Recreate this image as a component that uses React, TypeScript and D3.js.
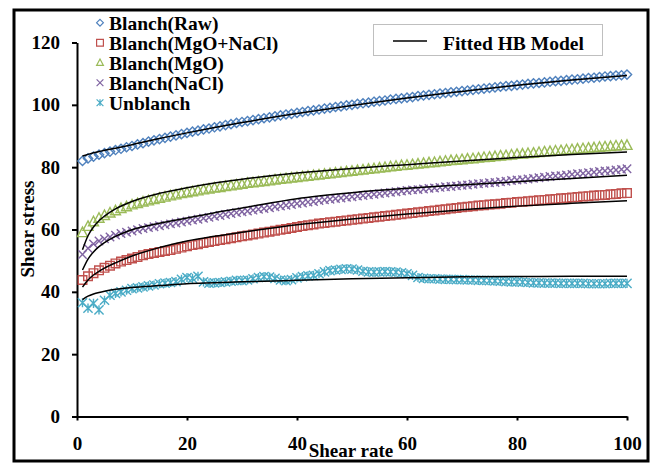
import React, { useEffect, useRef } from "react";
import * as d3 from "d3";

// shear rate (1/s) for every measured point
const shearRate = [
  1, 2, 3, 4, 5, 6, 7, 8, 9, 10, 11, 12, 13, 14, 15, 16, 17, 18, 19, 20,
  21, 22, 23, 24, 25, 26, 27, 28, 29, 30, 31, 32, 33, 34, 35, 36, 37, 38, 39, 40,
  41, 42, 43, 44, 45, 46, 47, 48, 49, 50, 51, 52, 53, 54, 55, 56, 57, 58, 59, 60,
  61, 62, 63, 64, 65, 66, 67, 68, 69, 70, 71, 72, 73, 74, 75, 76, 77, 78, 79, 80,
  81, 82, 83, 84, 85, 86, 87, 88, 89, 90, 91, 92, 93, 94, 95, 96, 97, 98, 99, 100,
];

const rawStress = [
  82.0, 82.8, 83.4, 84.0, 84.5, 85.0, 85.5, 85.9, 86.4, 86.8,
  87.3, 87.7, 88.2, 88.6, 89.0, 89.4, 89.8, 90.2, 90.6, 91.0,
  91.4, 91.7, 92.1, 92.4, 92.8, 93.1, 93.5, 93.8, 94.2, 94.5,
  94.8, 95.1, 95.4, 95.7, 96.0, 96.3, 96.6, 96.9, 97.1, 97.4,
  97.7, 98.0, 98.2, 98.5, 98.8, 99.0, 99.3, 99.5, 99.8, 100.0,
  100.3, 100.5, 100.7, 101.0, 101.2, 101.4, 101.7, 101.9, 102.1, 102.3,
  102.5, 102.8, 103.0, 103.2, 103.4, 103.6, 103.8, 104.0, 104.2, 104.4,
  104.6, 104.8, 105.0, 105.2, 105.4, 105.6, 105.8, 106.0, 106.1, 106.3,
  106.5, 106.7, 106.9, 107.0, 107.2, 107.4, 107.6, 107.7, 107.9, 108.1,
  108.2, 108.4, 108.6, 108.7, 108.9, 109.1, 109.2, 109.4, 109.5, 109.7,
];

const mgoNaclStress = [
  43.8, 45.0, 46.0, 46.9, 47.7, 48.4, 49.1, 49.7, 50.2, 50.7,
  51.2, 51.7, 52.1, 52.5, 52.8, 53.1, 53.4, 53.8, 54.2, 54.6,
  55.0, 55.3, 55.7, 56.0, 56.3, 56.6, 56.9, 57.2, 57.5, 57.8,
  58.1, 58.4, 58.7, 59.0, 59.3, 59.6, 59.9, 60.2, 60.5, 60.8,
  61.1, 61.4, 61.6, 61.9, 62.1, 62.3, 62.5, 62.7, 62.9, 63.1,
  63.3, 63.5, 63.7, 63.9, 64.1, 64.3, 64.5, 64.7, 64.9, 65.1,
  65.3, 65.5, 65.7, 65.9, 66.1, 66.3, 66.5, 66.7, 66.9, 67.1,
  67.3, 67.5, 67.7, 67.8, 68.0, 68.1, 68.3, 68.5, 68.6, 68.8,
  68.9, 69.1, 69.2, 69.4, 69.5, 69.7, 69.8, 70.0, 70.1, 70.3,
  70.4, 70.6, 70.7, 70.9, 71.0, 71.1, 71.3, 71.4, 71.6, 71.7,
];

const mgoStress = [
  59.0, 61.0, 62.5, 63.6, 64.5, 65.3, 66.0, 66.7, 67.3, 67.9,
  68.3, 68.8, 69.2, 69.6, 70.0, 70.4, 70.8, 71.1, 71.5, 71.8,
  72.1, 72.4, 72.7, 73.0, 73.3, 73.5, 73.8, 74.0, 74.3, 74.5,
  74.8, 75.0, 75.2, 75.4, 75.6, 75.9, 76.1, 76.3, 76.5, 76.7,
  76.9, 77.1, 77.3, 77.5, 77.7, 77.9, 78.1, 78.3, 78.5, 78.7,
  78.9, 79.1, 79.3, 79.5, 79.7, 79.9, 80.1, 80.3, 80.5, 80.6,
  80.8, 81.0, 81.2, 81.4, 81.5, 81.7, 81.9, 82.1, 82.2, 82.4,
  82.6, 82.7, 82.9, 83.1, 83.2, 83.4, 83.6, 83.7, 83.9, 84.1,
  84.2, 84.4, 84.5, 84.7, 84.9, 85.0, 85.2, 85.3, 85.5, 85.6,
  85.8, 85.9, 86.1, 86.2, 86.4, 86.5, 86.6, 86.8, 86.9, 87.0,
];

const naclStress = [
  52.0, 54.0, 55.4, 56.3, 57.0, 57.6, 58.2, 58.7, 59.1, 59.5,
  59.9, 60.3, 60.6, 60.9, 61.2, 61.5, 61.8, 62.1, 62.4, 62.7,
  63.0, 63.3, 63.6, 63.9, 64.2, 64.5, 64.8, 65.1, 65.4, 65.7,
  65.9, 66.2, 66.5, 66.7, 67.0, 67.3, 67.5, 67.8, 68.0, 68.3,
  68.5, 68.8, 69.0, 69.3, 69.5, 69.7, 69.9, 70.1, 70.3, 70.5,
  70.7, 70.9, 71.1, 71.3, 71.5, 71.7, 71.9, 72.1, 72.3, 72.5,
  72.7, 72.8, 73.0, 73.2, 73.3, 73.5, 73.7, 73.8, 74.0, 74.2,
  74.3, 74.5, 74.7, 74.8, 75.0, 75.1, 75.3, 75.5, 75.7, 75.9,
  76.0, 76.2, 76.4, 76.6, 76.8, 77.0, 77.2, 77.3, 77.5, 77.7,
  77.9, 78.0, 78.2, 78.4, 78.6, 78.8, 78.9, 79.1, 79.3, 79.5,
];

const unblanchStress = [
  36.5, 34.8, 36.3, 34.2, 37.3, 38.9, 39.5, 40.0, 40.5, 41.0,
  41.3, 41.6, 41.9, 42.2, 42.6, 42.8, 43.0, 43.3, 44.0, 44.6,
  44.3, 45.0, 43.2, 42.8, 42.9, 43.0, 43.2, 43.4, 43.7, 43.6,
  43.8, 44.2, 44.6, 44.9, 44.7, 44.3, 43.8, 43.6, 43.9, 44.5,
  44.9, 45.1, 45.3, 45.8, 46.4, 46.8, 47.0, 47.2, 47.4, 47.3,
  47.0, 46.6, 46.4, 46.3, 46.4, 46.5, 46.4, 46.3, 46.1, 45.8,
  45.3, 44.6, 44.3, 44.2, 44.2, 44.1, 44.0, 44.0, 43.9, 43.9,
  43.8, 43.8, 43.7, 43.7, 43.6, 43.5, 43.4, 43.3, 43.2, 43.2,
  43.1, 43.0, 42.9, 42.9, 42.8, 42.8, 42.8, 42.7, 42.7, 42.7,
  42.7, 42.7, 42.6, 42.6, 42.6, 42.6, 42.7, 42.7, 42.7, 42.7,
];

// Herschel-Bulkley fitted curves
const fitRate = [1, 2, 3, 4, 5, 7, 10, 15, 20, 25, 30, 40, 50, 60, 70, 80, 90, 100];
const rawFit = [83.6, 84.1, 84.6, 85.0, 85.4, 86.1, 87.2, 89.2, 91.0, 92.7, 94.3, 97.2, 99.8, 102.2, 104.3, 106.3, 108.0, 109.4];
const mgoNaclFit = [41.5, 43.8, 45.4, 46.6, 47.6, 49.3, 51.5, 54.2, 56.3, 57.8, 59.1, 61.5, 63.4, 65.0, 66.3, 67.5, 68.4, 69.2];
const mgoFit = [53.5, 58.0, 60.8, 62.8, 64.3, 66.6, 69.0, 71.6, 73.4, 74.9, 76.1, 78.1, 79.6, 80.8, 82.0, 83.1, 84.1, 84.9];
const naclFit = [47.0, 50.5, 52.8, 54.5, 55.8, 57.8, 59.9, 62.0, 63.7, 65.4, 66.9, 69.9, 71.8, 73.2, 74.3, 75.3, 76.4, 77.4];
const unblanchFit = [37.5, 38.6, 39.3, 39.8, 40.2, 40.8, 41.4, 42.0, 42.6, 42.9, 43.2, 43.7, 44.2, 44.5, 44.8, 44.9, 45.0, 45.0];

const seriesNames = ["Blanch(Raw)", "Blanch(MgO+NaCl)", "Blanch(MgO)", "Blanch(NaCl)", "Unblanch"];
const xTicks = [0, 20, 40, 60, 80, 100];
const yTicks = [0, 20, 40, 60, 80, 100, 120];

const W = 654;
const H = 464;
const FONT = "'Liberation Serif', 'Times New Roman', serif";

// marker outlines centred on 0,0
function markerPath(shape: string, r: number) {
  if (shape === "diamond") return `M0,${-r}L${r},0L0,${r}L${-r},0Z`;
  if (shape === "square") return `M${-r},${-r}H${r}V${r}H${-r}Z`;
  if (shape === "triangle") return `M0,${-r * 1.1}L${r},${r * 0.8}L${-r},${r * 0.8}Z`;
  if (shape === "x") return `M${-r},${-r}L${r},${r}M${-r},${r}L${r},${-r}`;
  return `M${-r},${-r}L${r},${r}M${-r},${r}L${r},${-r}M0,${-r}L0,${r}`;
}

export default function App() {
  const ref = useRef<SVGSVGElement>(null);

  useEffect(() => {
    const svg = d3.select(ref.current);
    svg.selectAll("*").remove();

    const x = d3.scaleLinear().domain([0, 100]).range([77, 627]);
    const y = d3.scaleLinear().domain([0, 120]).range([416.5, 42.5]);

    const series = [
      { name: seriesNames[0], values: rawStress, fit: rawFit, color: "#4F81BD", shape: "diamond", r: 4.6 },
      { name: seriesNames[1], values: mgoNaclStress, fit: mgoNaclFit, color: "#C0504D", shape: "square", r: 4.3 },
      { name: seriesNames[2], values: mgoStress, fit: mgoFit, color: "#9BBB59", shape: "triangle", r: 5 },
      { name: seriesNames[3], values: naclStress, fit: naclFit, color: "#8064A2", shape: "x", r: 4.2 },
      { name: seriesNames[4], values: unblanchStress, fit: unblanchFit, color: "#4BACC6", shape: "star", r: 4.6 },
    ];

    // outer frame
    svg
      .append("rect")
      .attr("x", 14)
      .attr("y", 10)
      .attr("width", 634)
      .attr("height", 451)
      .attr("fill", "none")
      .attr("stroke", "#000")
      .attr("stroke-width", 3);

    // axes
    const yAxis = svg
      .append("g")
      .attr("transform", `translate(${x(0)},0)`)
      .call(d3.axisLeft(y).tickValues(yTicks).tickSize(5).tickSizeOuter(0).tickPadding(12));
    const xAxis = svg
      .append("g")
      .attr("transform", `translate(0,${y(0)})`)
      .call(d3.axisBottom(x).tickValues(xTicks).tickSize(4).tickSizeOuter(0).tickPadding(16));
    [xAxis, yAxis].forEach((g) => {
      g.select(".domain").attr("stroke-width", 2);
      g.selectAll(".tick line").attr("stroke-width", 2);
      g.selectAll("text")
        .attr("font-family", FONT)
        .attr("font-weight", "bold")
        .attr("font-size", 19)
        .attr("fill", "#000");
    });

    // data markers
    series.forEach((s) => {
      svg
        .append("g")
        .selectAll("path")
        .data(s.values)
        .enter()
        .append("path")
        .attr("transform", (d, i) => `translate(${x(shearRate[i])},${y(d)})`)
        .attr("d", markerPath(s.shape, s.r))
        .attr("fill", "none")
        .attr("stroke", s.color)
        .attr("stroke-width", 1.4);
    });

    // fitted lines
    const line = d3
      .line<number>()
      .x((d, i) => x(fitRate[i]))
      .y((d) => y(d))
      .curve(d3.curveMonotoneX);
    series.forEach((s) => {
      svg
        .append("path")
        .attr("d", line(s.fit))
        .attr("fill", "none")
        .attr("stroke", "#000")
        .attr("stroke-width", 1.5);
    });

    // axis titles
    svg
      .append("text")
      .attr("transform", "translate(34,229) rotate(-90)")
      .attr("text-anchor", "middle")
      .attr("font-family", FONT)
      .attr("font-weight", "bold")
      .attr("font-size", 19)
      .text("Shear stress");
    svg
      .append("text")
      .attr("x", 351)
      .attr("y", 457)
      .attr("text-anchor", "middle")
      .attr("font-family", FONT)
      .attr("font-weight", "bold")
      .attr("font-size", 19)
      .text("Shear rate");

    // series legend
    const leg = svg.append("g");
    series.forEach((s, i) => {
      const cy = 22.7 + i * 20;
      leg
        .append("path")
        .attr("transform", `translate(100,${cy})`)
        .attr("d", markerPath(s.shape, 3.4))
        .attr("fill", "none")
        .attr("stroke", s.color)
        .attr("stroke-width", 1.2);
      leg
        .append("text")
        .attr("x", 109)
        .attr("y", cy + 7)
        .attr("font-family", FONT)
        .attr("font-weight", "bold")
        .attr("font-size", 19.5)
        .text(s.name);
    });

    // fitted model legend
    const fitLeg = svg.append("g");
    fitLeg
      .append("rect")
      .attr("x", 373.5)
      .attr("y", 24.5)
      .attr("width", 229)
      .attr("height", 31)
      .attr("fill", "#fff")
      .attr("stroke", "#BFBFBF")
      .attr("stroke-width", 1);
    fitLeg
      .append("line")
      .attr("x1", 393)
      .attr("x2", 427)
      .attr("y1", 41)
      .attr("y2", 41)
      .attr("stroke", "#000")
      .attr("stroke-width", 1.5);
    fitLeg
      .append("text")
      .attr("x", 443)
      .attr("y", 50)
      .attr("font-family", FONT)
      .attr("font-weight", "bold")
      .attr("font-size", 19.5)
      .text("Fitted HB Model");
  }, []);

  return (
    <div>
      <style>{"body{margin:0}"}</style>
      <svg ref={ref} width={W} height={H}></svg>
    </div>
  );
}
